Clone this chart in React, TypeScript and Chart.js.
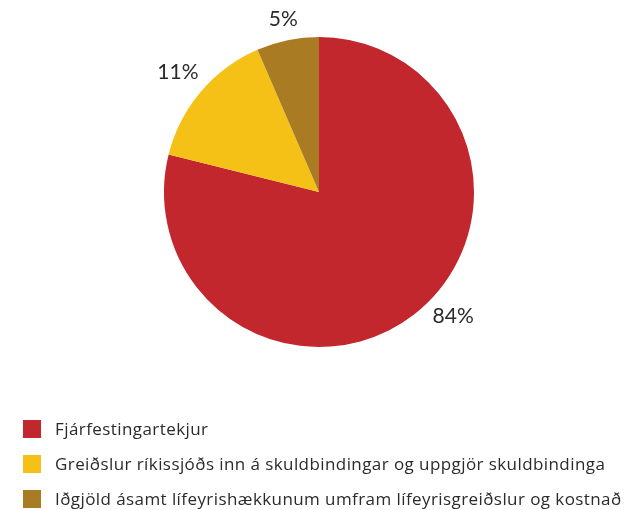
import React, { useEffect, useRef } from "react";
import { Chart, registerables } from "chart.js";

Chart.register(...registerables);

const categories = [
  "Fjárfestingartekjur",
  "Greiðslur ríkissjóðs inn á skuldbindingar og uppgjör skuldbindinga",
  "Iðgjöld ásamt lífeyrishækkunum umfram lífeyrisgreiðslur og kostnað",
];
const values = [78.9, 14.6, 6.5];
const percentLabels = ["84%", "11%", "5%"];
const colors = ["#C1272D", "#F5C116", "#A97C24"];

const LABEL_FONT = "Lato, 'Noto Sans', sans-serif";
const LEGEND_FONT = "'Open Sans', 'Noto Sans', sans-serif";
const TEXT = "#2b2b2b";

const labelPlugin = {
  id: "sliceLabels",
  afterDatasetsDraw(chart: any) {
    const ctx = chart.ctx;
    const meta = chart.getDatasetMeta(0);
    const shifts = [-0.16, 0, 0];
    const gaps = [28, 30, 21];
    ctx.save();
    ctx.font = `21px ${LABEL_FONT}`;
    ctx.fillStyle = TEXT;
    ctx.textAlign = "center";
    ctx.textBaseline = "middle";
    meta.data.forEach((arc: any, i: number) => {
      const { x, y, startAngle, endAngle, outerRadius } = arc.getProps(
        ["x", "y", "startAngle", "endAngle", "outerRadius"],
        true
      );
      const mid = (startAngle + endAngle) / 2 + shifts[i];
      const r = outerRadius + gaps[i];
      ctx.fillText(percentLabels[i], x + Math.cos(mid) * r, y + Math.sin(mid) * r);
    });
    ctx.restore();
  },
};

const legendPlugin = {
  id: "customLegend",
  afterDraw(chart: any) {
    const ctx = chart.ctx;
    const left = 23;
    const top = 420;
    const box = 18;
    const row = 35;
    ctx.save();
    ctx.font = `17px ${LEGEND_FONT}`;
    (ctx as any).letterSpacing = "0.42px";
    ctx.textBaseline = "middle";
    ctx.textAlign = "left";
    categories.forEach((name, i) => {
      const y = top + i * row;
      ctx.fillStyle = colors[i];
      ctx.fillRect(left, y, box, box);
      ctx.fillStyle = TEXT;
      ctx.fillText(name, left + box + 14, y + box / 2 + 1);
    });
    ctx.restore();
  },
};

export default function App() {
  const ref = useRef<HTMLCanvasElement>(null);
  useEffect(() => {
    if (!ref.current) return;
    const chart = new Chart(ref.current, {
      type: "pie",
      data: {
        labels: categories,
        datasets: [
          {
            data: values,
            backgroundColor: colors,
            borderWidth: 0,
          },
        ],
      },
      options: {
        responsive: false,
        animation: false,
        layout: { padding: { top: 37, bottom: 163, left: 164, right: 152 } },
        plugins: {
          legend: { display: false },
          tooltip: { enabled: false },
        },
      },
      plugins: [labelPlugin, legendPlugin],
    });
    return () => chart.destroy();
  }, []);
  return (
    <div style={{ position: "fixed", left: 0, top: 0, width: 626, height: 510, background: "#fff" }}>
      <canvas ref={ref} width={626} height={510} />
    </div>
  );
}
